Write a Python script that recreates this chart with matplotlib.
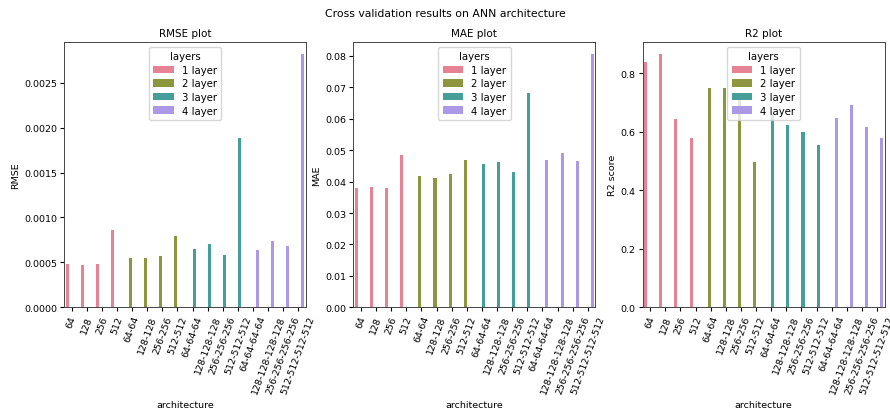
import matplotlib
matplotlib.use("Agg")
import matplotlib.pyplot as plt
import numpy as np
import colorsys
from matplotlib.colors import to_rgb

architectures = ["64", "128", "256", "512",
                 "64-64", "128-128", "256-256", "512-512",
                 "64-64-64", "128-128-128", "256-256-256", "512-512-512",
                 "64-64-64-64", "128-128-128-128", "256-256-256-256", "512-512-512-512"]
layers = ["1 layer"] * 4 + ["2 layer"] * 4 + ["3 layer"] * 4 + ["4 layer"] * 4
layer_names = ["1 layer", "2 layer", "3 layer", "4 layer"]
base_colors = ["#f77189", "#97a431", "#36ada4", "#a48cf4"]

rmse = [0.000481, 0.000474, 0.000478, 0.000856,
        0.000548, 0.000544, 0.000567, 0.000796,
        0.000648, 0.000700, 0.000581, 0.001889,
        0.000633, 0.000737, 0.000685, 0.002815]
mae = [0.0381, 0.0382, 0.0379, 0.0486,
       0.0417, 0.0411, 0.0423, 0.0468,
       0.0455, 0.0461, 0.0430, 0.0681,
       0.0470, 0.0490, 0.0466, 0.0805]
r2 = [0.837, 0.864, 0.642, 0.577,
      0.750, 0.750, 0.720, 0.497,
      0.660, 0.622, 0.598, 0.553,
      0.647, 0.691, 0.617, 0.578]

panels = [("RMSE plot", "RMSE", rmse),
          ("MAE plot", "MAE", mae),
          ("R2 plot", "R2 score", r2)]


def desaturate(c, prop=0.75):
    h, l, s = colorsys.rgb_to_hls(*to_rgb(c))
    return colorsys.hls_to_rgb(h, l, s * prop)


colors = [desaturate(c) for c in base_colors]

fig = plt.figure(figsize=(8.9, 4.14), dpi=100)
lefts = [0.0719, 0.397, 0.7221]
n_hue = len(layer_names)
bw = 0.8 / n_hue
x = np.arange(len(architectures))
for left, (title, ylabel, vals) in zip(lefts, panels):
    ax = fig.add_axes([left, 0.2553, 0.2719, 0.6416])
    for hi, (lname, col) in enumerate(zip(layer_names, colors)):
        idx = [i for i, l in enumerate(layers) if l == lname]
        offs = -0.4 + bw * (hi + 0.5)
        ax.bar(x[idx] + offs, [vals[i] for i in idx], width=bw, color=col,
               label=lname, linewidth=0)
    ax.set_xlim(-0.5, len(architectures) - 0.5)
    ax.set_ylim(0, max(vals) * 1.05)
    ax.set_xticks(x)
    ax.set_xticklabels(architectures, rotation=70, fontsize=6.8)
    ax.tick_params(axis="y", labelsize=6.8, length=3, pad=2)
    ax.tick_params(axis="x", length=3, pad=2)
    ax.set_title(title, fontsize=7.5, pad=4)
    ax.set_ylabel(ylabel, fontsize=6.8, labelpad=3)
    ax.set_xlabel("architecture", fontsize=6.8)
    ax.xaxis.set_label_coords(0.5, -0.35)
    for s in ax.spines.values():
        s.set_linewidth(0.7)
        s.set_color("#444444")
    ax.legend(title="layers", loc="upper center", fontsize=7.3, title_fontsize=7.3,
              handlelength=2.0, handleheight=0.75, labelspacing=0.35, borderpad=0.45,
              handletextpad=0.8, framealpha=0.8, borderaxespad=0.5)

fig.suptitle("Cross validation results on ANN architecture", fontsize=7.8, y=0.978)
fig.savefig("out.png", dpi=100)
